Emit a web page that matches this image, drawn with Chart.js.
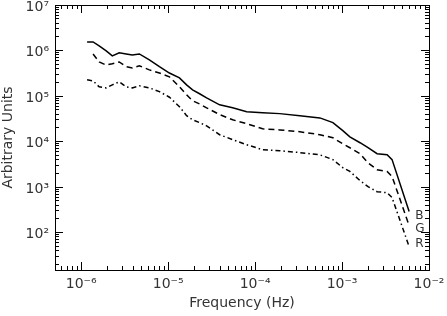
<!DOCTYPE html>
<html><head><meta charset="utf-8">
<script src="https://cdn.jsdelivr.net/npm/chart.js@4/dist/chart.umd.min.js"></script>
<style>html,body{margin:0;padding:0;background:#fff}canvas{display:block}</style>
</head><body>
<canvas id="c" width="447" height="316"></canvas>
<script>
// ---- data ----
const frequencyHz = [1.17e-6, 1.37e-6, 1.61e-6, 1.94e-6, 2.28e-6, 2.74e-6, 3.30e-6, 3.87e-6, 4.67e-6, 6.08e-6,
  7.94e-6, 1.035e-5, 1.35e-5, 1.63e-5, 1.91e-5, 2.30e-5, 2.77e-5, 3.91e-5, 5.52e-5, 8.0e-5,
  1.22e-4, 1.92e-4, 3.27e-4, 5.56e-4, 7.85e-4, 1.02e-3, 1.23e-3, 1.61e-3, 1.99e-3, 2.53e-3,
  3.30e-3, 3.76e-3, 5.91e-3];
const seriesB = [1.54e6, 1.54e6, 1.26e6, 9.8e5, 7.6e5, 8.9e5, 8.4e5, 8.0e5, 8.4e5, 6.2e5,
  4.4e5, 3.2e5, 2.5e5, 1.76e5, 1.37e5, 1.12e5, 9.1e4, 6.4e4, 5.5e4, 4.5e4,
  4.3e4, 4.1e4, 3.7e4, 3.3e4, 2.6e4, 1.73e4, 1.27e4, 9.4e3, 7.3e3, 5.4e3,
  5.1e3, 4.0e3, 290];
const seriesG = [null, 8.4e5, 5.6e5, 4.8e5, 5.1e5, 5.6e5, 4.4e5, 4.15e5, 4.6e5, 3.75e5,
  3.2e5, 2.64e5, 1.59e5, 1.06e5, 7.85e4, 6.7e4, 5.5e4, 3.9e4, 3.0e4, 2.46e4,
  1.9e4, 1.8e4, 1.64e4, 1.41e4, 1.21e4, 8.9e3, 7.3e3, 5.4e3, 3.4e3, 2.4e3,
  2.2e3, 1.7e3, 142];
const seriesR = [2.27e5, 2.15e5, 1.59e5, 1.51e5, 1.76e5, 2.05e5, 1.59e5, 1.51e5, 1.67e5, 1.51e5,
  1.25e5, 9.4e4, 5.8e4, 3.7e4, 3.0e4, 2.6e4, 2.2e4, 1.41e4, 1.10e4, 8.5e3,
  6.6e3, 6.3e3, 5.7e3, 5.1e3, 4.0e3, 2.66e3, 2.2e3, 1.38e3, 1.02e3, 7.9e2,
  7.5e2, 5.85e2, 49];
const seriesNames = ['B', 'G', 'R'];
const xRange = [5e-7, 1e-2];
const yRange = [15, 1e7];
const xTitle = 'Frequency (Hz)';
const yTitle = 'Arbitrary Units';

// ---- helpers ----
const SUP = {'-': '\u207B', '0': '\u2070', '1': '\u00B9', '2': '\u00B2', '3': '\u00B3', '4': '\u2074',
  '5': '\u2075', '6': '\u2076', '7': '\u2077', '8': '\u2078', '9': '\u2079'};
function isDecade(v) { const l = Math.log10(v); return Math.abs(l - Math.round(l)) < 1e-6; }
function powLabel(v) {
  const e = String(Math.round(Math.log10(v)));
  return '10' + e.split('').map(ch => SUP[ch]).join('');
}
function decadeTicks(min, max) {
  const t = [];
  for (let e = Math.floor(Math.log10(min)); e <= Math.ceil(Math.log10(max)); e++) {
    for (let m = 1; m <= 9; m++) {
      const v = parseFloat((m * Math.pow(10, e)).toPrecision(6));
      if (v >= min * 0.99999 && v <= max * 1.00001) t.push({value: v});
    }
  }
  return t;
}
const TXT = '#333';
const tickFont = {family: 'DejaVu Sans', size: 14};
// minor ticks shorter than major ones (drawn inward)
const dashOuterStart = c => (c.tick && !isDecade(c.tick.value)) ? [5, 100] : [];
const dashInnerStart = c => (c.tick && !isDecade(c.tick.value)) ? [0, 4, 4, 100] : [];

function axis(type, position, range, extra) {
  return Object.assign({
    type: 'logarithmic', position: position, min: range[0], max: range[1],
    afterBuildTicks: s => { s.ticks = decadeTicks(s.min, s.max); },
    border: {display: true, color: '#000', width: 1},
    grid: {drawOnChartArea: false, drawTicks: true, tickLength: -8, tickColor: '#000', tickWidth: 1,
      tickBorderDash: (position === 'bottom' || position === 'right') ? dashOuterStart : dashInnerStart},
  }, extra);
}

const endLabels = {
  id: 'endLabels',
  afterDatasetsDraw(chart) {
    const ctx = chart.ctx;
    ctx.save();
    ctx.font = '12px "DejaVu Sans"';
    ctx.fillStyle = TXT;
    ctx.textBaseline = 'middle';
    ctx.textAlign = 'left';
    chart.data.datasets.forEach((ds, i) => {
      const meta = chart.getDatasetMeta(i);
      const p = meta.data[meta.data.length - 1];
      ctx.fillText(ds.label, p.x + 6, p.y + ds.labelShift);
    });
    ctx.restore();
  }
};

const mk = arr => frequencyHz.map((f, i) => ({x: f, y: arr[i]}));

new Chart(document.getElementById('c'), {
  type: 'line',
  data: {
    datasets: [
      {label: seriesNames[0], data: mk(seriesB), borderDash: [], labelShift: 4},
      {label: seriesNames[1], data: mk(seriesG), borderDash: [6, 4], labelShift: 3},
      {label: seriesNames[2], data: mk(seriesR), borderDash: [5, 3, 1.5, 3], labelShift: -3}
    ]
  },
  options: {
    responsive: false, animation: false, devicePixelRatio: 1,
    layout: {padding: 0},
    plugins: {legend: {display: false}, tooltip: {enabled: false}},
    elements: {
      point: {radius: 0},
      line: {borderWidth: 1.5, borderColor: '#000', tension: 0, fill: false}
    },
    scales: {
      x: axis('x', 'bottom', xRange, {
        afterFit: s => { s.height = 46; s.paddingLeft = 0; s.paddingRight = 0; },
        ticks: {autoSkip: false, maxRotation: 0, minRotation: 0, padding: 14, color: TXT, font: tickFont,
          callback: v => isDecade(v) ? powLabel(v) : ''},
        title: {display: true, text: xTitle, color: TXT, font: {family: 'DejaVu Sans', size: 14},
          padding: {top: 0, bottom: 4}}
      }),
      x2: axis('x', 'top', xRange, {
        axis: 'x',
        afterFit: s => { s.height = 5; s.paddingLeft = 0; s.paddingRight = 0; },
        ticks: {display: false}
      }),
      y: axis('y', 'left', yRange, {
        afterFit: s => { s.width = 55; s.paddingTop = 0; s.paddingBottom = 0; },
        ticks: {autoSkip: false, padding: 14, labelOffset: 2, color: TXT, font: tickFont,
          callback: v => isDecade(v) ? powLabel(v) : ''},
        title: {display: true, text: yTitle, color: TXT, font: {family: 'DejaVu Sans', size: 14},
          padding: {top: 0, bottom: 0}}
      }),
      y2: axis('y', 'right', yRange, {
        axis: 'y',
        afterFit: s => { s.width = 18; s.paddingTop = 0; s.paddingBottom = 0; },
        ticks: {display: false}
      })
    }
  },
  plugins: [endLabels]
});
</script>
</body></html>
